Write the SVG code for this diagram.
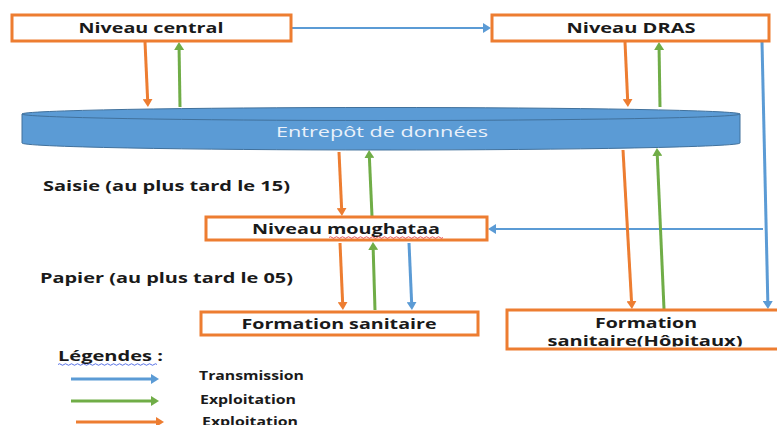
<svg xmlns="http://www.w3.org/2000/svg" width="777" height="425" viewBox="0 0 777 425">
<style>
.box{fill:#fff;stroke:#ED7D31;stroke-width:3}
.lbl{font-family:"Open Sans","Liberation Sans",sans-serif;font-weight:700;font-size:14px;fill:#1a1a1a}
.sm{font-size:12px}
.c{text-anchor:middle}
.o{stroke:#ED7D31;stroke-width:3;fill:none;marker-end:url(#mo)}
.g{stroke:#70AD47;stroke-width:3;fill:none;marker-end:url(#mg)}
.b{stroke:#5B9BD5;stroke-width:3;fill:none;marker-end:url(#mb)}
.b2{stroke:#5B9BD5;stroke-width:2;fill:none;marker-end:url(#mb)}
</style>
<defs>
<marker id="mo" viewBox="0 0 8 10" refX="0" refY="5" markerWidth="8" markerHeight="10" markerUnits="userSpaceOnUse" orient="auto"><path d="M0,0 L8,5 L0,10 z" fill="#ED7D31"/></marker>
<marker id="mg" viewBox="0 0 8 10" refX="0" refY="5" markerWidth="8" markerHeight="10" markerUnits="userSpaceOnUse" orient="auto"><path d="M0,0 L8,5 L0,10 z" fill="#70AD47"/></marker>
<marker id="mb" viewBox="0 0 8 10" refX="0" refY="5" markerWidth="8" markerHeight="10" markerUnits="userSpaceOnUse" orient="auto"><path d="M0,0 L8,5 L0,10 z" fill="#5B9BD5"/></marker>
<clipPath id="hclip"><rect x="508" y="311.5" width="270" height="35"/></clipPath>
</defs>
<rect width="777" height="425" fill="#fff"/>

<g id="connectors">
<path class="b2" d="M291,28 L483,28"/>
<path class="o" d="M145,42 L147.6,99"/>
<path class="g" d="M180,107 L179.1,50"/>
<path class="o" d="M625,42 L627.6,99"/>
<path class="g" d="M660,107 L659.1,50"/>
<path class="b" d="M762,42 L767.8,301"/>
<path class="b2" d="M763,229 L496,229"/>
<path class="o" d="M339,152 L341.6,208"/>
<path class="g" d="M372,216 L369.4,158"/>
<path class="o" d="M623,150 L631.5,301"/>
<path class="g" d="M664,309 L657.3,156"/>
<path class="o" d="M340,243 L342.6,302"/>
<path class="g" d="M375,310 L373.2,250"/>
<path class="b" d="M409,243 L411.6,302"/>
</g>

<g id="central">
<rect class="box" x="12" y="15" width="279" height="26"/>
<text class="lbl c" x="151" y="33" textLength="145" lengthAdjust="spacingAndGlyphs">Niveau central</text>
</g>

<g id="dras">
<rect class="box" x="492" y="15" width="277" height="26"/>
<text class="lbl c" x="631" y="33" textLength="129" lengthAdjust="spacingAndGlyphs">Niveau DRAS</text>
</g>

<g id="entrepot">
<path d="M22,114 L22,143 A359,7 0 0 0 740,143 L740,114 Z" fill="#5B9BD5" stroke="#41719C" stroke-width="1"/>
<ellipse cx="381" cy="114" rx="359" ry="6.5" fill="#5B9BD5" stroke="#41719C" stroke-width="1"/>
<text x="382" y="137" text-anchor="middle" font-family="'Open Sans','Liberation Sans',sans-serif" font-size="14" fill="#EAF1FA" textLength="212" lengthAdjust="spacingAndGlyphs">Entrepôt de données</text>
</g>

<g id="moughataa">
<rect class="box" x="206" y="217" width="281" height="23"/>
<text class="lbl c" x="346" y="234" textLength="188" lengthAdjust="spacingAndGlyphs">Niveau moughataa</text>
<path d="M329,237.5 q1.5,-1.5 3,0 t3,0 t3,0 t3,0 t3,0 t3,0 t3,0 t3,0 t3,0 t3,0 t3,0 t3,0 t3,0 t3,0 t3,0 t3,0 t3,0 t3,0 t3,0 t3,0 t3,0 t3,0 t3,0 t3,0 t3,0 t3,0 t3,0 t3,0 t3,0 t3,0 t3,0 t3,0 t3,0 t3,0 t3,0 t3,0 t3,0 t3,0" fill="none" stroke="#E03030" stroke-width="0.8"/>
</g>

<g id="formation">
<rect class="box" x="201" y="312" width="277" height="23"/>
<text class="lbl c" x="339" y="329" textLength="195" lengthAdjust="spacingAndGlyphs">Formation sanitaire</text>
</g>

<g id="hopitaux">
<rect class="box" x="507" y="310" width="272" height="39"/>
<g clip-path="url(#hclip)">
<text class="lbl c" x="646" y="328" textLength="102" lengthAdjust="spacingAndGlyphs">Formation</text>
<text class="lbl c" x="645" y="346" textLength="195" lengthAdjust="spacingAndGlyphs">sanitaire(Hôpitaux)</text>
</g>
</g>

<g id="labels">
<text class="lbl" x="43" y="191" textLength="247" lengthAdjust="spacingAndGlyphs">Saisie (au plus tard  le 15)</text>
<text class="lbl" x="40" y="283" textLength="253" lengthAdjust="spacingAndGlyphs">Papier (au plus tard  le 05)</text>
</g>

<g id="legend">
<text class="lbl" x="58" y="361" textLength="105" lengthAdjust="spacingAndGlyphs">Légendes :</text>
<path d="M58,364.5 q1.5,-1.5 3,0 t3,0 t3,0 t3,0 t3,0 t3,0 t3,0 t3,0 t3,0 t3,0 t3,0 t3,0 t3,0 t3,0 t3,0 t3,0 t3,0 t3,0 t3,0 t3,0 t3,0 t3,0 t3,0 t3,0 t3,0 t3,0 t3,0 t3,0 t3,0 t3,0 t3,0 t3,0 t3,0" fill="none" stroke="#3050E0" stroke-width="0.8"/>
<path class="b" d="M71,379 L151,379"/>
<text class="lbl sm" x="199" y="380" textLength="105" lengthAdjust="spacingAndGlyphs">Transmission</text>
<path class="g" d="M71,401 L151,401"/>
<text class="lbl sm" x="200" y="404" textLength="96" lengthAdjust="spacingAndGlyphs">Exploitation</text>
<path class="o" d="M76,422 L156,422"/>
<text class="lbl sm" x="202" y="426" textLength="96" lengthAdjust="spacingAndGlyphs">Exploitation</text>
</g>
</svg>
